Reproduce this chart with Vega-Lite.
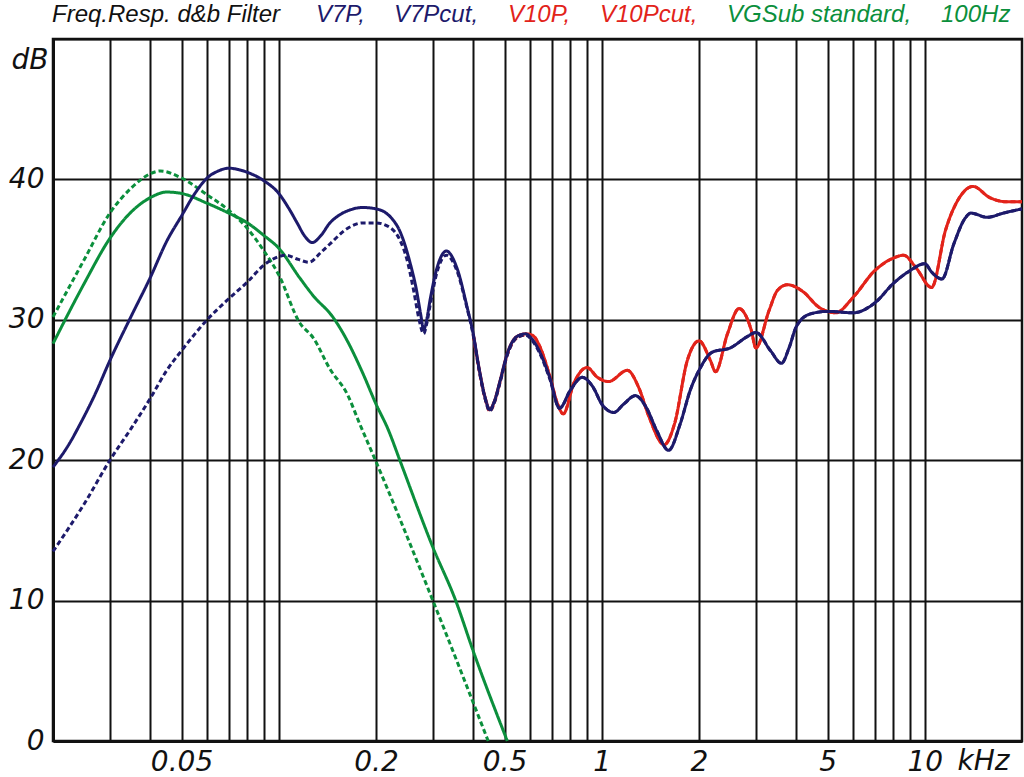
{
"$schema": "https://vega.github.io/schema/vega-lite/v6.json",
"width": 969, "height": 702,
"autosize": {"type": "none"},
"padding": {"left": 53, "top": 39, "right": 2, "bottom": 36},
"background": "white",
"config": {
  "view": {"stroke": "#111", "strokeWidth": 2.5},
  "axis": {"gridColor": "#111", "gridOpacity": 1, "gridWidth": 2, "domainColor": "#111", "domainWidth": 3, "ticks": false,
    "labelFont": "DejaVu Sans", "labelFontStyle": "italic", "labelFontSize": 28, "labelColor": "#111",
    "titleFont": "DejaVu Sans", "titleFontStyle": "italic", "titleFontWeight": "normal", "titleFontSize": 28, "titleColor": "#111"}
},
"datasets": {
"d": [
{"s":"V7P","f":0.02,"db":19.5},{"s":"V7P","f":0.0225,"db":21.2},{"s":"V7P","f":0.0243,"db":22.6},{"s":"V7P","f":0.027,"db":24.7},{"s":"V7P","f":0.03,"db":27.1},{"s":"V7P","f":0.035,"db":30.3},{"s":"V7P","f":0.04,"db":33.0},{"s":"V7P","f":0.045,"db":35.6},{"s":"V7P","f":0.05,"db":37.4},{"s":"V7P","f":0.055,"db":39.0},{"s":"V7P","f":0.06,"db":40.1},{"s":"V7P","f":0.065,"db":40.6},{"s":"V7P","f":0.07,"db":40.8},{"s":"V7P","f":0.075,"db":40.7},{"s":"V7P","f":0.08,"db":40.5},{"s":"V7P","f":0.09,"db":39.9},{"s":"V7P","f":0.1,"db":39.0},{"s":"V7P","f":0.107,"db":38.0},{"s":"V7P","f":0.114,"db":36.9},{"s":"V7P","f":0.12,"db":36.0},{"s":"V7P","f":0.127,"db":35.5},{"s":"V7P","f":0.135,"db":36.0},{"s":"V7P","f":0.144,"db":36.9},{"s":"V7P","f":0.155,"db":37.5},{"s":"V7P","f":0.165,"db":37.8},{"s":"V7P","f":0.182,"db":38.0},{"s":"V7P","f":0.2,"db":37.9},{"s":"V7P","f":0.215,"db":37.6},{"s":"V7P","f":0.226,"db":37.1},{"s":"V7P","f":0.235,"db":36.5},{"s":"V7P","f":0.242,"db":35.8},{"s":"V7P","f":0.254,"db":34.2},{"s":"V7P","f":0.267,"db":32.1},{"s":"V7P","f":0.275,"db":30.4},{"s":"V7P","f":0.281,"db":29.3},{"s":"V7P","f":0.287,"db":30.0},{"s":"V7P","f":0.294,"db":31.4},{"s":"V7P","f":0.309,"db":33.7},{"s":"V7P","f":0.33,"db":34.9},{"s":"V7P","f":0.356,"db":33.7},{"s":"V7P","f":0.383,"db":30.9},{"s":"V7P","f":0.4,"db":29.0},{"s":"V7P","f":0.418,"db":26.4},{"s":"V7P","f":0.435,"db":24.5},{"s":"V7P","f":0.45,"db":23.6},{"s":"V7P","f":0.465,"db":24.2},{"s":"V7P","f":0.485,"db":25.7},{"s":"V7P","f":0.51,"db":27.6},{"s":"V7P","f":0.545,"db":28.8},{"s":"V7P","f":0.58,"db":29.0},{"s":"V7P","f":0.61,"db":28.6},{"s":"V7P","f":0.64,"db":27.8},{"s":"V7P","f":0.69,"db":25.9},{"s":"V7P","f":0.74,"db":23.7},{"s":"V7P","f":0.8,"db":25.0},{"s":"V7P","f":0.87,"db":25.9},{"s":"V7P","f":0.94,"db":25.2},{"s":"V7P","f":1.0,"db":24.0},{"s":"V7P","f":1.09,"db":23.4},{"s":"V7P","f":1.17,"db":24.0},{"s":"V7P","f":1.27,"db":24.6},{"s":"V7P","f":1.37,"db":23.8},{"s":"V7P","f":1.48,"db":22.1},{"s":"V7P","f":1.61,"db":20.7},{"s":"V7P","f":1.75,"db":22.6},{"s":"V7P","f":1.88,"db":25.0},{"s":"V7P","f":2.0,"db":26.4},{"s":"V7P","f":2.2,"db":27.7},{"s":"V7P","f":2.5,"db":28.0},{"s":"V7P","f":2.82,"db":28.8},{"s":"V7P","f":3.0,"db":29.1},{"s":"V7P","f":3.33,"db":27.8},{"s":"V7P","f":3.6,"db":26.9},{"s":"V7P","f":3.8,"db":28.0},{"s":"V7P","f":4.0,"db":29.5},{"s":"V7P","f":4.4,"db":30.4},{"s":"V7P","f":5.0,"db":30.6},{"s":"V7P","f":6.0,"db":30.5},{"s":"V7P","f":7.0,"db":31.2},{"s":"V7P","f":8.0,"db":32.6},{"s":"V7P","f":9.0,"db":33.5},{"s":"V7P","f":10.0,"db":34.0},{"s":"V7P","f":10.5,"db":33.4},{"s":"V7P","f":11.3,"db":32.9},{"s":"V7P","f":12.3,"db":35.4},{"s":"V7P","f":13.3,"db":37.2},{"s":"V7P","f":13.9,"db":37.6},{"s":"V7P","f":15.6,"db":37.3},{"s":"V7P","f":17.5,"db":37.6},{"s":"V7P","f":20,"db":37.9},

{"s":"V7Pcut","f":0.02,"db":13.5},{"s":"V7Pcut","f":0.025,"db":16.9},{"s":"V7Pcut","f":0.03,"db":20.0},{"s":"V7Pcut","f":0.035,"db":22.3},{"s":"V7Pcut","f":0.04,"db":24.4},{"s":"V7Pcut","f":0.045,"db":26.4},{"s":"V7Pcut","f":0.05,"db":27.8},{"s":"V7Pcut","f":0.06,"db":30.0},{"s":"V7Pcut","f":0.07,"db":31.5},{"s":"V7Pcut","f":0.08,"db":32.7},{"s":"V7Pcut","f":0.09,"db":33.9},{"s":"V7Pcut","f":0.1,"db":34.5},{"s":"V7Pcut","f":0.105,"db":34.6},{"s":"V7Pcut","f":0.115,"db":34.3},{"s":"V7Pcut","f":0.124,"db":34.1},{"s":"V7Pcut","f":0.135,"db":34.8},{"s":"V7Pcut","f":0.144,"db":35.4},{"s":"V7Pcut","f":0.163,"db":36.5},{"s":"V7Pcut","f":0.182,"db":36.9},{"s":"V7Pcut","f":0.2,"db":36.9},{"s":"V7Pcut","f":0.22,"db":36.6},{"s":"V7Pcut","f":0.237,"db":35.7},{"s":"V7Pcut","f":0.25,"db":34.2},{"s":"V7Pcut","f":0.262,"db":32.0},{"s":"V7Pcut","f":0.272,"db":30.0},{"s":"V7Pcut","f":0.281,"db":29.0},{"s":"V7Pcut","f":0.287,"db":29.7},{"s":"V7Pcut","f":0.294,"db":31.0},{"s":"V7Pcut","f":0.309,"db":33.4},{"s":"V7Pcut","f":0.33,"db":34.6},{"s":"V7Pcut","f":0.356,"db":33.5},{"s":"V7Pcut","f":0.383,"db":30.8},{"s":"V7Pcut","f":0.4,"db":28.9},{"s":"V7Pcut","f":0.418,"db":26.3},{"s":"V7Pcut","f":0.435,"db":24.4},{"s":"V7Pcut","f":0.45,"db":23.5},{"s":"V7Pcut","f":0.465,"db":24.1},{"s":"V7Pcut","f":0.485,"db":25.6},{"s":"V7Pcut","f":0.51,"db":27.5},{"s":"V7Pcut","f":0.545,"db":28.7},{"s":"V7Pcut","f":0.58,"db":28.9},{"s":"V7Pcut","f":0.61,"db":28.5},{"s":"V7Pcut","f":0.64,"db":27.7},{"s":"V7Pcut","f":0.69,"db":25.8},{"s":"V7Pcut","f":0.74,"db":23.7},{"s":"V7Pcut","f":0.8,"db":25.0},{"s":"V7Pcut","f":0.87,"db":25.9},{"s":"V7Pcut","f":0.94,"db":25.2},{"s":"V7Pcut","f":1.0,"db":24.0},{"s":"V7Pcut","f":1.09,"db":23.4},{"s":"V7Pcut","f":1.17,"db":24.0},{"s":"V7Pcut","f":1.27,"db":24.6},{"s":"V7Pcut","f":1.37,"db":23.8},{"s":"V7Pcut","f":1.48,"db":22.1},{"s":"V7Pcut","f":1.61,"db":20.7},{"s":"V7Pcut","f":1.75,"db":22.6},{"s":"V7Pcut","f":1.88,"db":25.0},{"s":"V7Pcut","f":2.0,"db":26.4},{"s":"V7Pcut","f":2.2,"db":27.7},{"s":"V7Pcut","f":2.5,"db":28.0},{"s":"V7Pcut","f":2.82,"db":28.8},{"s":"V7Pcut","f":3.0,"db":29.1},{"s":"V7Pcut","f":3.33,"db":27.8},{"s":"V7Pcut","f":3.6,"db":26.9},{"s":"V7Pcut","f":3.8,"db":28.0},{"s":"V7Pcut","f":4.0,"db":29.5},{"s":"V7Pcut","f":4.4,"db":30.4},{"s":"V7Pcut","f":5.0,"db":30.6},{"s":"V7Pcut","f":6.0,"db":30.5},{"s":"V7Pcut","f":7.0,"db":31.2},{"s":"V7Pcut","f":8.0,"db":32.6},{"s":"V7Pcut","f":9.0,"db":33.5},{"s":"V7Pcut","f":10.0,"db":34.0},{"s":"V7Pcut","f":10.5,"db":33.4},{"s":"V7Pcut","f":11.3,"db":32.9},{"s":"V7Pcut","f":12.3,"db":35.4},{"s":"V7Pcut","f":13.3,"db":37.2},{"s":"V7Pcut","f":13.9,"db":37.6},{"s":"V7Pcut","f":15.6,"db":37.3},{"s":"V7Pcut","f":17.5,"db":37.6},{"s":"V7Pcut","f":20,"db":37.9},

{"s":"V10P","f":0.4,"db":29.0},{"s":"V10P","f":0.418,"db":26.4},{"s":"V10P","f":0.435,"db":24.5},{"s":"V10P","f":0.45,"db":23.6},{"s":"V10P","f":0.465,"db":24.2},{"s":"V10P","f":0.485,"db":25.7},{"s":"V10P","f":0.51,"db":27.6},{"s":"V10P","f":0.545,"db":28.8},{"s":"V10P","f":0.58,"db":29.0},{"s":"V10P","f":0.61,"db":28.9},{"s":"V10P","f":0.64,"db":28.2},{"s":"V10P","f":0.69,"db":26.0},{"s":"V10P","f":0.73,"db":24.0},{"s":"V10P","f":0.76,"db":23.3},{"s":"V10P","f":0.82,"db":25.5},{"s":"V10P","f":0.9,"db":26.6},{"s":"V10P","f":0.97,"db":25.9},{"s":"V10P","f":1.05,"db":25.6},{"s":"V10P","f":1.2,"db":26.4},{"s":"V10P","f":1.3,"db":25.2},{"s":"V10P","f":1.4,"db":23.1},{"s":"V10P","f":1.56,"db":21.1},{"s":"V10P","f":1.68,"db":22.6},{"s":"V10P","f":1.84,"db":27.1},{"s":"V10P","f":2.0,"db":28.5},{"s":"V10P","f":2.17,"db":27.1},{"s":"V10P","f":2.25,"db":26.3},{"s":"V10P","f":2.45,"db":29.0},{"s":"V10P","f":2.66,"db":30.8},{"s":"V10P","f":2.9,"db":29.3},{"s":"V10P","f":3.0,"db":28.0},{"s":"V10P","f":3.3,"db":30.7},{"s":"V10P","f":3.5,"db":32.1},{"s":"V10P","f":3.76,"db":32.5},{"s":"V10P","f":4.2,"db":32.0},{"s":"V10P","f":4.7,"db":30.9},{"s":"V10P","f":5.3,"db":30.5},{"s":"V10P","f":6.0,"db":31.6},{"s":"V10P","f":7.0,"db":33.5},{"s":"V10P","f":8.0,"db":34.4},{"s":"V10P","f":8.6,"db":34.6},{"s":"V10P","f":9.4,"db":33.7},{"s":"V10P","f":10.5,"db":32.3},{"s":"V10P","f":11.6,"db":36.4},{"s":"V10P","f":12.8,"db":38.7},{"s":"V10P","f":14.1,"db":39.5},{"s":"V10P","f":15.9,"db":38.7},{"s":"V10P","f":18,"db":38.4},{"s":"V10P","f":20,"db":38.4},

{"s":"V10Pcut","f":0.4,"db":28.9},{"s":"V10Pcut","f":0.418,"db":26.3},{"s":"V10Pcut","f":0.435,"db":24.4},{"s":"V10Pcut","f":0.45,"db":23.5},{"s":"V10Pcut","f":0.465,"db":24.1},{"s":"V10Pcut","f":0.485,"db":25.6},{"s":"V10Pcut","f":0.51,"db":27.5},{"s":"V10Pcut","f":0.545,"db":28.7},{"s":"V10Pcut","f":0.58,"db":28.9},{"s":"V10Pcut","f":0.61,"db":28.9},{"s":"V10Pcut","f":0.64,"db":28.2},{"s":"V10Pcut","f":0.69,"db":26.0},{"s":"V10Pcut","f":0.73,"db":24.0},{"s":"V10Pcut","f":0.76,"db":23.3},{"s":"V10Pcut","f":0.82,"db":25.5},{"s":"V10Pcut","f":0.9,"db":26.6},{"s":"V10Pcut","f":0.97,"db":25.9},{"s":"V10Pcut","f":1.05,"db":25.6},{"s":"V10Pcut","f":1.2,"db":26.4},{"s":"V10Pcut","f":1.3,"db":25.2},{"s":"V10Pcut","f":1.4,"db":23.1},{"s":"V10Pcut","f":1.56,"db":21.1},{"s":"V10Pcut","f":1.68,"db":22.6},{"s":"V10Pcut","f":1.84,"db":27.1},{"s":"V10Pcut","f":2.0,"db":28.5},{"s":"V10Pcut","f":2.17,"db":27.1},{"s":"V10Pcut","f":2.25,"db":26.3},{"s":"V10Pcut","f":2.45,"db":29.0},{"s":"V10Pcut","f":2.66,"db":30.8},{"s":"V10Pcut","f":2.9,"db":29.3},{"s":"V10Pcut","f":3.0,"db":28.0},{"s":"V10Pcut","f":3.3,"db":30.7},{"s":"V10Pcut","f":3.5,"db":32.1},{"s":"V10Pcut","f":3.76,"db":32.5},{"s":"V10Pcut","f":4.2,"db":32.0},{"s":"V10Pcut","f":4.7,"db":30.9},{"s":"V10Pcut","f":5.3,"db":30.5},{"s":"V10Pcut","f":6.0,"db":31.6},{"s":"V10Pcut","f":7.0,"db":33.5},{"s":"V10Pcut","f":8.0,"db":34.4},{"s":"V10Pcut","f":8.6,"db":34.6},{"s":"V10Pcut","f":9.4,"db":33.7},{"s":"V10Pcut","f":10.5,"db":32.3},{"s":"V10Pcut","f":11.6,"db":36.4},{"s":"V10Pcut","f":12.8,"db":38.7},{"s":"V10Pcut","f":14.1,"db":39.5},{"s":"V10Pcut","f":15.9,"db":38.7},{"s":"V10Pcut","f":18,"db":38.4},{"s":"V10Pcut","f":20,"db":38.4},

{"s":"VGSub standard","f":0.02,"db":28.3},{"s":"VGSub standard","f":0.025,"db":32.6},{"s":"VGSub standard","f":0.03,"db":35.8},{"s":"VGSub standard","f":0.035,"db":37.7},{"s":"VGSub standard","f":0.04,"db":38.7},{"s":"VGSub standard","f":0.045,"db":39.1},{"s":"VGSub standard","f":0.05,"db":39.0},{"s":"VGSub standard","f":0.06,"db":38.3},{"s":"VGSub standard","f":0.07,"db":37.6},{"s":"VGSub standard","f":0.08,"db":36.9},{"s":"VGSub standard","f":0.09,"db":36.0},{"s":"VGSub standard","f":0.1,"db":35.1},{"s":"VGSub standard","f":0.116,"db":33.0},{"s":"VGSub standard","f":0.128,"db":31.7},{"s":"VGSub standard","f":0.147,"db":30.2},{"s":"VGSub standard","f":0.163,"db":28.5},{"s":"VGSub standard","f":0.182,"db":26.2},{"s":"VGSub standard","f":0.2,"db":24.0},{"s":"VGSub standard","f":0.218,"db":22.2},{"s":"VGSub standard","f":0.237,"db":20.0},{"s":"VGSub standard","f":0.3,"db":13.8},{"s":"VGSub standard","f":0.353,"db":10.0},{"s":"VGSub standard","f":0.4,"db":6.4},{"s":"VGSub standard","f":0.51,"db":0},

{"s":"100Hz","f":0.02,"db":30.2},{"s":"100Hz","f":0.025,"db":34.3},{"s":"100Hz","f":0.03,"db":37.6},{"s":"100Hz","f":0.035,"db":39.4},{"s":"100Hz","f":0.04,"db":40.4},{"s":"100Hz","f":0.043,"db":40.6},{"s":"100Hz","f":0.05,"db":40.1},{"s":"100Hz","f":0.06,"db":38.9},{"s":"100Hz","f":0.07,"db":37.8},{"s":"100Hz","f":0.08,"db":36.5},{"s":"100Hz","f":0.09,"db":34.9},{"s":"100Hz","f":0.1,"db":33.2},{"s":"100Hz","f":0.116,"db":29.8},{"s":"100Hz","f":0.128,"db":28.7},{"s":"100Hz","f":0.144,"db":26.5},{"s":"100Hz","f":0.163,"db":24.7},{"s":"100Hz","f":0.178,"db":22.6},{"s":"100Hz","f":0.2,"db":19.9},{"s":"100Hz","f":0.3,"db":10.0},{"s":"100Hz","f":0.445,"db":0}
]
},
"data": {"name": "d"},
"encoding": {
  "x": {"field": "f", "type": "quantitative",
    "scale": {"type": "log", "domain": [0.02, 20], "nice": false},
    "axis": {"grid": true, "values": [0.03,0.04,0.05,0.06,0.07,0.08,0.09,0.1,0.2,0.3,0.4,0.5,0.6,0.7,0.8,0.9,1,2,3,4,5,6,7,8,9,10],
      "labelExpr": "indexof([0.05,0.2,0.5,1,2,5,10], datum.value) >= 0 ? format(datum.value, '~g') : ''",
      "labelOverlap": false, "labelFlush": false, "labelBound": false, "labelPadding": 7,
      "title": "kHz", "titleX": 904, "titleY": 28, "titleAlign": "left", "titleAnchor": "start", "titleBaseline": "alphabetic"}},
  "y": {"field": "db", "type": "quantitative",
    "scale": {"domain": [0, 50], "nice": false},
    "axis": {"grid": true, "values": [0,10,20,30,40,50], "labelExpr": "datum.value == 50 ? '' : datum.label",
      "labelPadding": 9, "labelOverlap": false, "labelFlush": false,
      "title": "dB", "titleAngle": 0, "titleX": -5, "titleY": 29, "titleAlign": "right", "titleBaseline": "alphabetic"}},
  "color": {"field": "s", "type": "nominal",
    "scale": {"domain": ["V7P","V7Pcut","V10P","V10Pcut","VGSub standard","100Hz"],
      "range": ["#1d1a6b","#1d1a6b","#e2231a","#e2231a","#0b8f3c","#0b8f3c"]},
    "legend": {"orient": "none", "legendX": -1, "legendY": -36, "direction": "horizontal",
      "title": "Freq.Resp. d&b Filter", "titleOrient": "left", "titlePadding": 11, "titleLimit": 600,
      "titleFont": "Liberation Sans", "titleFontSize": 24, "titleFontStyle": "italic", "titleFontWeight": "normal", "titleColor": "#111",
      "labelFont": "Liberation Sans", "labelFontSize": 24, "labelFontStyle": "italic",
      "labelExpr": "datum.label == '100Hz' ? datum.label : datum.label + ','",
      "symbolType": "circle", "symbolSize": 0, "symbolStrokeWidth": 0, "symbolOpacity": 0, "labelOffset": 0, "columnPadding": 5,
      "labelLimit": 400, "gridAlign": "each",
      "encode": {"labels": {"update": {"fill": {"signal": "scale('color', datum.value)"}}}}}},
  "strokeDash": {"field": "s", "type": "nominal",
    "scale": {"domain": ["V7P","V7Pcut","V10P","V10Pcut","VGSub standard","100Hz"],
      "range": [[1,0],[5,3],[1,0],[5,3],[1,0],[5,3]]},
    "legend": null}
},
"layer": [
  {"transform": [{"filter": "datum.s == 'V10P' || datum.s == 'V10Pcut'"}],
   "mark": {"type": "line", "interpolate": "monotone", "strokeWidth": 3}},
  {"transform": [{"filter": "datum.s == 'VGSub standard' || datum.s == '100Hz'"}],
   "mark": {"type": "line", "interpolate": "monotone", "strokeWidth": 3}},
  {"transform": [{"filter": "datum.s == 'V7P' || datum.s == 'V7Pcut'"}],
   "mark": {"type": "line", "interpolate": "monotone", "strokeWidth": 3}}
]
}
